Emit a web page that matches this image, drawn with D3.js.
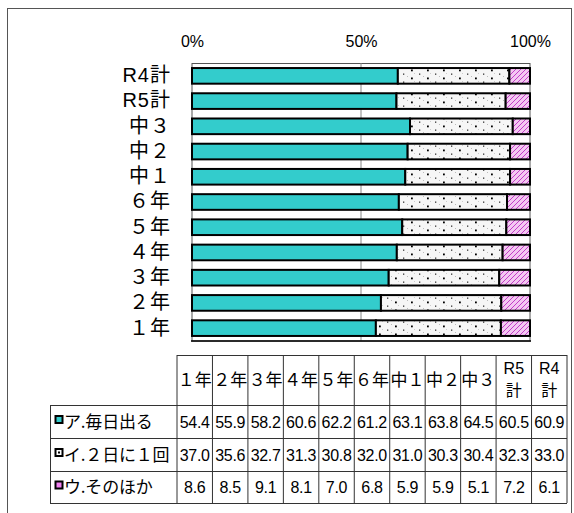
<!DOCTYPE html>
<html>
<head>
<meta charset="utf-8">
<script src="https://cdn.jsdelivr.net/npm/d3@7"></script>
<style>
  body { margin: 0; background: #fff; }
  text { font-family: "Liberation Sans", "Noto Sans CJK JP", sans-serif; fill: #000; }
</style>
</head>
<body>
<div id="chart"></div>
<script>
// categories (bottom to top in the chart, left to right in the table)
var categories = ["１年", "２年", "３年", "４年", "５年", "６年", "中１", "中２", "中３", "R5計", "R4計"];
var headerLines = [["１年"], ["２年"], ["３年"], ["４年"], ["５年"], ["６年"], ["中１"], ["中２"], ["中３"], ["R5", "計"], ["R4", "計"]];
var seriesNames = ["ア.毎日出る", "イ.２日に１回", "ウ.そのほか"];
var mainichi = [54.4, 55.9, 58.2, 60.6, 62.2, 61.2, 63.1, 63.8, 64.5, 60.5, 60.9];
var futsuka = [37.0, 35.6, 32.7, 31.3, 30.8, 32.0, 31.0, 30.3, 30.4, 32.3, 33.0];
var sonohoka = [8.6, 8.5, 9.1, 8.1, 7.0, 6.8, 5.9, 5.9, 5.1, 7.2, 6.1];
var tickValues = [0, 50, 100];

var width = 574, height = 513;

var svg = d3.select("#chart")
  .append("svg")
    .attr("width", width)
    .attr("height", height);

// patterns for the 2nd and 3rd series
var defs = svg.append("defs");
var dots = defs.append("pattern")
  .attr("id", "dots")
  .attr("patternUnits", "userSpaceOnUse")
  .attr("width", 16).attr("height", 8);
dots.append("rect").attr("width", 16).attr("height", 8).attr("fill", "#f6f6f6");
dots.append("rect").attr("x", 3).attr("y", 1.5).attr("width", 1.3).attr("height", 1.3).attr("fill", "#333");
dots.append("rect").attr("x", 11).attr("y", 5.5).attr("width", 1.8).attr("height", 1.8).attr("fill", "#000");
dots.append("rect").attr("x", 7).attr("y", 4).attr("width", 1).attr("height", 1).attr("fill", "#bbb");
dots.append("rect").attr("x", 14).attr("y", 1).attr("width", 1).attr("height", 1).attr("fill", "#ccc");

var hatch = defs.append("pattern")
  .attr("id", "hatch")
  .attr("patternUnits", "userSpaceOnUse")
  .attr("width", 5).attr("height", 5);
hatch.append("rect").attr("width", 5).attr("height", 5).attr("fill", "#f4c8f2");
hatch.append("path")
  .attr("d", "M0,5 L5,0 M-1,1 L1,-1 M4,6 L6,4")
  .attr("stroke", "#c23ec8")
  .attr("stroke-width", 1);

var fills = ["#33cccc", "url(#dots)", "url(#hatch)"];

// outer frame
svg.append("rect")
  .attr("x", 7.5).attr("y", 8.5)
  .attr("width", 564).attr("height", 530)
  .attr("fill", "none")
  .attr("stroke", "#555");

// scales
var x = d3.scaleLinear().domain([0, 100]).range([192, 530]);
var y = d3.scaleBand()
  .domain(categories.slice().reverse())
  .range([63, 341])
  .paddingInner(0.38)
  .paddingOuter(0.2);

// plot area
svg.append("rect")
  .attr("x", 192).attr("y", 63.5)
  .attr("width", 338).attr("height", 277.5)
  .attr("fill", "#fff")
  .attr("stroke", "#555");

svg.append("line")
  .attr("x1", x(50)).attr("x2", x(50))
  .attr("y1", 63).attr("y2", 341)
  .attr("stroke", "#888");

// stacked data
var rows = categories.map(function(c, i) {
  return { cat: c, values: [mainichi[i], futsuka[i], sonohoka[i]] };
});

var barG = svg.append("g");
rows.forEach(function(r) {
  var start = 0;
  r.values.forEach(function(v, k) {
    barG.append("rect")
      .attr("x", x(start))
      .attr("y", y(r.cat))
      .attr("width", x(start + v) - x(start))
      .attr("height", y.bandwidth())
      .attr("fill", fills[k])
      .attr("stroke", "#000")
      .attr("stroke-width", 2);
    start += v;
  });
});

// bottom edge of plot
svg.append("line")
  .attr("x1", 191).attr("x2", 531)
  .attr("y1", 341).attr("y2", 341)
  .attr("stroke", "#000").attr("stroke-width", 1.5);

// axes
var xAxis = svg.append("g")
  .attr("transform", "translate(0,63)")
  .call(d3.axisTop(x).tickValues(tickValues).tickFormat(function(d) { return d + "%"; }).tickSize(0).tickPadding(16));
xAxis.select(".domain").remove();
xAxis.selectAll("text")
  .style("font-size", "16px")
  .style("font-family", "Liberation Sans, sans-serif");

var yAxis = svg.append("g")
  .attr("transform", "translate(192,0)")
  .call(d3.axisLeft(y).tickSize(0).tickPadding(21));
yAxis.select(".domain").remove();
yAxis.selectAll("text")
  .style("font-size", "20px")
  .attr("letter-spacing", "1px");

// data table
var tX = d3.scaleBand().domain(categories).range([177, 567]);
var tTop = 355, headBottom = 405, rowYs = [405, 438, 471, 503];
var table = svg.append("g");

// header row
table.append("line")
  .attr("x1", 177).attr("x2", 567)
  .attr("y1", tTop + 0.5).attr("y2", tTop + 0.5)
  .attr("stroke", "#333");
categories.forEach(function(c, i) {
  var cx = tX(c) + tX.bandwidth() / 2;
  var lines = headerLines[i];
  lines.forEach(function(t, j) {
    table.append("text")
      .attr("x", cx)
      .attr("y", lines.length == 1 ? 386 : 374 + j * 22)
      .attr("text-anchor", "middle")
      .style("font-size", lines.length == 1 ? "17px" : "16px")
      .text(t);
  });
});

// horizontal row lines
rowYs.forEach(function(ry) {
  table.append("line")
    .attr("x1", 50).attr("x2", 567)
    .attr("y1", ry + 0.5).attr("y2", ry + 0.5)
    .attr("stroke", "#333");
});

// vertical lines
table.append("line")
  .attr("x1", 50.5).attr("x2", 50.5)
  .attr("y1", headBottom).attr("y2", rowYs[3])
  .attr("stroke", "#333");
categories.forEach(function(c) {
  table.append("line")
    .attr("x1", tX(c)).attr("x2", tX(c))
    .attr("y1", tTop).attr("y2", rowYs[3])
    .attr("stroke", "#333");
});
table.append("line")
  .attr("x1", 567).attr("x2", 567)
  .attr("y1", tTop).attr("y2", rowYs[3])
  .attr("stroke", "#333");

// row labels with legend keys
var keyFills = ["#33cccc", "#fff", "#f080f0"];
var seriesData = [mainichi, futsuka, sonohoka];
seriesNames.forEach(function(name, k) {
  var cy = (rowYs[k] + rowYs[k + 1]) / 2;
  table.append("rect")
    .attr("x", 55.5).attr("y", cy - 5.5)
    .attr("width", 7).attr("height", 7)
    .attr("fill", keyFills[k])
    .attr("stroke", "#000").attr("stroke-width", 2);
  if (k == 1) {
    table.append("rect")
      .attr("x", 58).attr("y", cy - 3)
      .attr("width", 2).attr("height", 2)
      .attr("fill", "#000");
  }
  table.append("text")
    .attr("x", 64)
    .attr("y", cy + 6)
    .style("font-size", "17px")
    .style("font-family", "Noto Sans CJK JP, sans-serif")
    .attr("letter-spacing", "-0.2px")
    .text(name);

  seriesData[k].forEach(function(v, i) {
    table.append("text")
      .attr("x", tX(categories[i]) + tX.bandwidth() / 2)
      .attr("y", cy + 6)
      .attr("text-anchor", "middle")
      .style("font-size", "16px")
      .style("font-family", "Liberation Sans, sans-serif")
      .attr("letter-spacing", "-0.3px")
      .text(v.toFixed(1));
  });
});
</script>
</body>
</html>
